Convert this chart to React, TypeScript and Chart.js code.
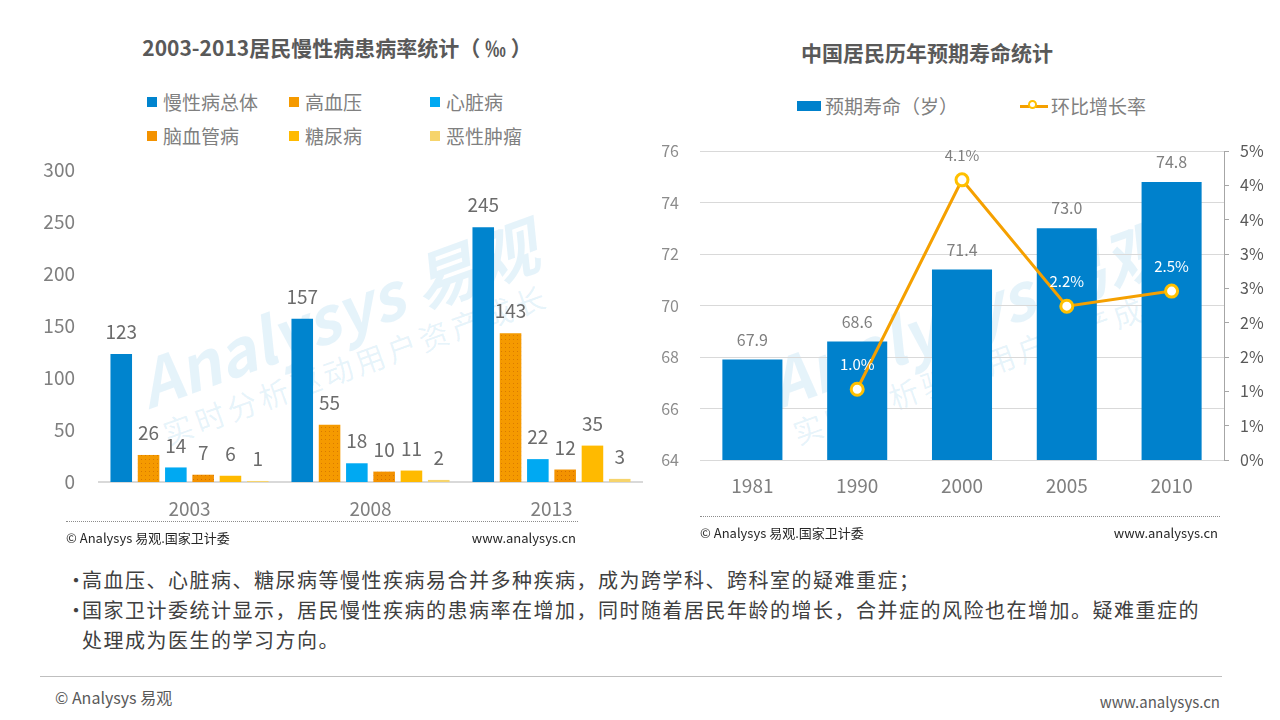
import React, { useEffect, useRef } from 'react';
import { Chart, registerables } from 'chart.js';

Chart.register(...registerables);

const FONT = "'Noto Sans CJK SC', 'Noto Sans', sans-serif";

// ---- Left chart: chronic disease prevalence (‰) ----
const diseaseYears = ['2003', '2008', '2013'];
const diseaseNames = ['慢性病总体', '高血压', '心脏病', '脑血管病', '糖尿病', '恶性肿瘤'];
const chronicTotal = [123, 157, 245];
const hypertension = [26, 55, 143];
const heartDisease = [14, 18, 22];
const cerebrovascular = [7, 10, 12];
const diabetes = [6, 11, 35];
const cancer = [1, 2, 3];
const diseaseColors = ['#0084CE', '#F59A00', '#00A9F2', '#F39200', '#FFBA00', '#F6D46C'];
const diseaseAxisMin = 0;
const diseaseAxisMax = 300;
const diseaseAxisStep = 50;

// ---- Right chart: life expectancy ----
const lifeYears = ['1981', '1990', '2000', '2005', '2010'];
const lifeExpectancy = [67.9, 68.6, 71.4, 73.0, 74.8];
const growthRate = [null, 1.03, 4.08, 2.24, 2.46];
const growthLabelColors = ['#7f7f7f', '#ffffff', '#7f7f7f', '#ffffff', '#ffffff'];
const lifeAxisMin = 64;
const lifeAxisMax = 76;
const lifeAxisStep = 2;
const rateAxisMin = 0;
const rateAxisMax = 4.5;
const rateAxisStep = 0.5;

const legendLeft = [
  { name: diseaseNames[0], color: diseaseColors[0], x: 147, y: 97 },
  { name: diseaseNames[1], color: diseaseColors[1], x: 289, y: 97 },
  { name: diseaseNames[2], color: diseaseColors[2], x: 430, y: 97 },
  { name: diseaseNames[3], color: diseaseColors[3], x: 147, y: 131 },
  { name: diseaseNames[4], color: diseaseColors[4], x: 289, y: 131 },
  { name: diseaseNames[5], color: diseaseColors[5], x: 430, y: 131 },
];

function dotPattern(base: string, dot: string): CanvasPattern | string {
  const c = document.createElement('canvas');
  c.width = 4;
  c.height = 4;
  const g = c.getContext('2d');
  if (!g) return base;
  g.fillStyle = base;
  g.fillRect(0, 0, 4, 4);
  g.fillStyle = dot;
  g.fillRect(1, 1, 1, 1);
  return g.createPattern(c, 'repeat') || base;
}

const valueLabels = {
  id: 'valueLabels',
  afterDatasetsDraw(chart: any) {
    const ctx = chart.ctx;
    chart.data.datasets.forEach((ds: any, i: number) => {
      const cfg = ds.valueLabel;
      if (!cfg) return;
      const meta = chart.getDatasetMeta(i);
      if (meta.hidden) return;
      meta.data.forEach((el: any, j: number) => {
        const v = ds.data[j];
        if (v == null) return;
        ctx.save();
        ctx.font = `${cfg.size}px ${FONT}`;
        ctx.fillStyle = Array.isArray(cfg.color) ? cfg.color[j] : cfg.color;
        ctx.textAlign = 'center';
        ctx.textBaseline = 'middle';
        ctx.fillText(cfg.format(v), el.x, el.y - cfg.offset);
        ctx.restore();
      });
    });
  },
};

function DiseaseChart() {
  const ref = useRef<HTMLCanvasElement>(null);
  useEffect(() => {
    if (!ref.current) return;
    const series = [chronicTotal, hypertension, heartDisease, cerebrovascular, diabetes, cancer];
    const fills: any[] = diseaseColors.map((c) => c);
    fills[1] = dotPattern(diseaseColors[1], '#D97A00');
    fills[3] = dotPattern(diseaseColors[3], '#D47000');
    const chart = new Chart(ref.current, {
      type: 'bar',
      data: {
        labels: diseaseYears,
        datasets: series.map((d, i) => ({
          label: diseaseNames[i],
          data: d,
          backgroundColor: fills[i],
          categoryPercentage: 0.905,
          barPercentage: 0.79,
          valueLabel: { size: 19, color: '#6b6b6b', offset: 22, format: (v: number) => String(v) },
        })) as any,
      },
      options: {
        animation: false,
        responsive: false,
        maintainAspectRatio: false,
        layout: { padding: { top: 40, left: 30, right: 18, bottom: 8 } },
        plugins: { legend: { display: false }, tooltip: { enabled: false } },
        scales: {
          x: {
            grid: { display: false, drawTicks: false },
            border: { display: true, color: '#d9d9d9', width: 2 },
            ticks: { color: '#7f7f7f', font: { family: FONT, size: 19 }, padding: 15 },
            afterFit: (s: any) => { s.height = 50; },
          },
          y: {
            min: diseaseAxisMin,
            max: diseaseAxisMax,
            grid: { display: false, drawTicks: false },
            border: { display: false },
            ticks: { stepSize: diseaseAxisStep, color: '#7f7f7f', font: { family: FONT, size: 19 }, padding: 24 },
            afterFit: (s: any) => { s.width = 69; },
          },
        },
      } as any,
      plugins: [valueLabels],
    });
    return () => chart.destroy();
  }, []);
  return <canvas ref={ref} width={660} height={410} style={{ position: 'absolute', left: 0, top: 130, width: 660, height: 410 }} />;
}

function LifeChart() {
  const ref = useRef<HTMLCanvasElement>(null);
  useEffect(() => {
    if (!ref.current) return;
    const chart = new Chart(ref.current, {
      type: 'bar',
      data: {
        labels: lifeYears,
        datasets: [
          {
            type: 'line',
            label: '环比增长率',
            data: growthRate,
            yAxisID: 'y2',
            order: 0,
            borderColor: '#F5A000',
            borderWidth: 3,
            pointRadius: 6,
            pointBorderWidth: 3,
            pointBorderColor: '#FFC000',
            pointBackgroundColor: '#ffffff',
            spanGaps: false,
            valueLabel: { size: 15, color: growthLabelColors, offset: 25, format: (v: number) => v.toFixed(1) + '%' },
          },
          {
            type: 'bar',
            label: '预期寿命（岁）',
            data: lifeExpectancy,
            yAxisID: 'y',
            order: 1,
            backgroundColor: '#0081CC',
            categoryPercentage: 1,
            barPercentage: 0.573,
            valueLabel: { size: 16, color: '#7f7f7f', offset: 20, format: (v: number) => v.toFixed(1) },
          },
        ] as any,
      },
      options: {
        animation: false,
        responsive: false,
        maintainAspectRatio: false,
        layout: { padding: { top: 31, left: 10, right: 0, bottom: 10 } },
        plugins: { legend: { display: false }, tooltip: { enabled: false } },
        scales: {
          x: {
            grid: { display: false, drawTicks: false },
            border: { display: false },
            ticks: { color: '#7f7f7f', font: { family: FONT, size: 19 }, padding: 14 },
            afterFit: (s: any) => { s.height = 50; },
          },
          y: {
            position: 'left',
            min: lifeAxisMin,
            max: lifeAxisMax,
            grid: { color: '#d9d9d9', drawTicks: false },
            border: { display: false },
            ticks: { stepSize: lifeAxisStep, color: '#8c8c8c', font: { family: FONT, size: 16 }, padding: 21 },
            afterFit: (s: any) => { s.width = 50; },
          },
          y2: {
            position: 'right',
            min: rateAxisMin,
            max: rateAxisMax,
            grid: { drawOnChartArea: false, drawTicks: true, tickLength: 5, color: '#a6a6a6' },
            border: { display: true, color: '#a6a6a6' },
            ticks: {
              stepSize: rateAxisStep,
              color: '#595959',
              font: { family: FONT, size: 16 },
              padding: 11,
              callback: (v: any) => Math.round(Number(v)) + '%',
            },
            afterFit: (s: any) => { s.width = 56; },
          },
        },
      } as any,
      plugins: [valueLabels],
    });
    return () => chart.destroy();
  }, []);
  return <canvas ref={ref} width={640} height={400} style={{ position: 'absolute', left: 640, top: 120, width: 640, height: 400 }} />;
}

const abs = (s: React.CSSProperties): React.CSSProperties => ({ position: 'absolute', whiteSpace: 'nowrap', ...s });

function Watermark({ cx, cy }: { cx: number; cy: number }) {
  return (
    <div style={abs({ left: cx - 230, top: cy - 60, width: 460, height: 120, transform: 'rotate(-20deg)', textAlign: 'center', color: 'rgba(0,140,210,0.10)', pointerEvents: 'none' })}>
      <div style={{ fontSize: 64, lineHeight: '70px', fontStyle: 'italic', fontWeight: 700, fontFamily: "'Noto Sans CJK SC', sans-serif" }}>Analysys 易观</div>
      <div style={{ fontSize: 30, lineHeight: '40px', letterSpacing: 4 }}>实时分析驱动用户资产成长</div>
    </div>
  );
}

const bulletStyle: React.CSSProperties = { display: 'inline-block', width: 16 };

export default function App() {
  return (
    <div style={{ position: 'absolute', left: 0, top: 0, width: 1280, height: 720, background: '#ffffff', overflow: 'hidden', fontFamily: FONT }}>
      <Watermark cx={345} cy={335} />
      <Watermark cx={975} cy={335} />

      {/* Titles */}
      <div style={abs({ left: 0, width: 674, top: 32, lineHeight: '30px', textAlign: 'center', fontSize: 21, fontWeight: 700, color: '#595959' })}>
        2003-2013居民慢性病患病率统计（ ‰ ）
      </div>
      <div style={abs({ left: 700, width: 454, top: 37, lineHeight: '30px', textAlign: 'center', fontSize: 21, fontWeight: 700, color: '#595959' })}>
        中国居民历年预期寿命统计
      </div>

      {/* Left legend */}
      {legendLeft.map((l) => (
        <React.Fragment key={l.name}>
          <div style={abs({ left: l.x, top: l.y, width: 10, height: 10, background: l.color })} />
          <div style={abs({ left: l.x + 16, top: l.y - 10, lineHeight: '30px', fontSize: 19, color: '#808080' })}>{l.name}</div>
        </React.Fragment>
      ))}

      {/* Right legend */}
      <div style={abs({ left: 797, top: 101, width: 24, height: 10, background: '#0081CC' })} />
      <div style={abs({ left: 825, top: 91, lineHeight: '30px', fontSize: 19, color: '#808080' })}>预期寿命（岁）</div>
      <div style={abs({ left: 1020, top: 105, width: 28, height: 3, background: '#F5A000' })} />
      <div style={abs({ left: 1028, top: 100, width: 9, height: 9, borderRadius: '50%', border: '2.5px solid #FFC000', background: '#fff', boxSizing: 'border-box' })} />
      <div style={abs({ left: 1051, top: 91, lineHeight: '30px', fontSize: 19, color: '#808080' })}>环比增长率</div>

      <DiseaseChart />
      <LifeChart />

      {/* Left footer */}
      <div style={abs({ left: 66, top: 521, width: 512, borderTop: '1px dotted #8c8c8c' })} />
      <div style={abs({ left: 66, top: 528, lineHeight: '20px', fontSize: 13, color: '#262626' })}>© Analysys 易观.国家卫计委</div>
      <div style={abs({ left: 420, width: 156, top: 528, lineHeight: '20px', fontSize: 13, color: '#262626', textAlign: 'right' })}>www.analysys.cn</div>

      {/* Right footer */}
      <div style={abs({ left: 700, top: 516, width: 520, borderTop: '1px dotted #8c8c8c' })} />
      <div style={abs({ left: 700, top: 523, lineHeight: '20px', fontSize: 13, color: '#262626' })}>© Analysys 易观.国家卫计委</div>
      <div style={abs({ left: 1060, width: 158, top: 523, lineHeight: '20px', fontSize: 13, color: '#262626', textAlign: 'right' })}>www.analysys.cn</div>

      {/* Bullets */}
      <div style={abs({ left: 66, top: 565, lineHeight: '30px', fontSize: 20, letterSpacing: 1.5, color: '#404040' })}>
        <span style={bulletStyle}>•</span>高血压、心脏病、糖尿病等慢性疾病易合并多种疾病，成为跨学科、跨科室的疑难重症；
      </div>
      <div style={abs({ left: 66, top: 595, lineHeight: '30px', fontSize: 20, letterSpacing: 1.5, color: '#404040' })}>
        <span style={bulletStyle}>•</span>国家卫计委统计显示，居民慢性疾病的患病率在增加，同时随着居民年龄的增长，合并症的风险也在增加。疑难重症的
        <br />
        <span style={bulletStyle}></span>处理成为医生的学习方向。
      </div>

      {/* Bottom */}
      <div style={abs({ left: 40, top: 676, width: 1182, borderTop: '1px solid #bfbfbf' })} />
      <div style={abs({ left: 55, top: 686, lineHeight: '22px', fontSize: 16, color: '#595959' })}>© Analysys 易观</div>
      <div style={abs({ left: 1000, width: 1220 - 1000, top: 691, lineHeight: '22px', fontSize: 15, color: '#595959', textAlign: 'right' })}>www.analysys.cn</div>
    </div>
  );
}
